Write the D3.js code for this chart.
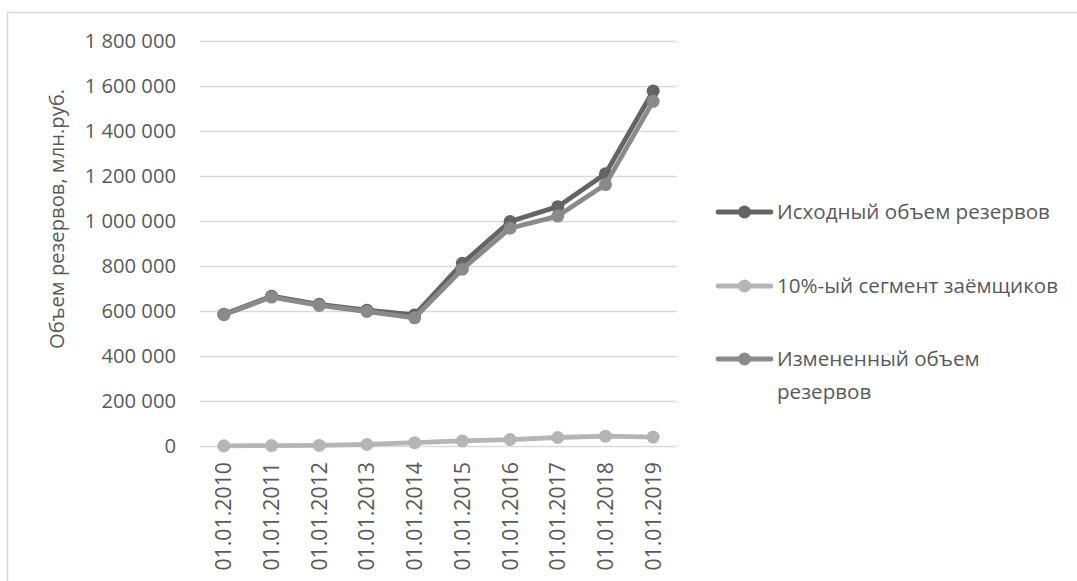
<!DOCTYPE html>
<html><head><meta charset="utf-8">
<script src="https://cdn.jsdelivr.net/npm/d3@7"></script>
<style>
html,body{margin:0;padding:0;background:#fff;}
svg{display:block;}
text{font-family:"Open Sans",sans-serif;fill:#595959;}
</style></head>
<body>
<svg id="c" width="1077" height="581"></svg>
<script>
const categories = ["01.01.2010","01.01.2011","01.01.2012","01.01.2013","01.01.2014","01.01.2015","01.01.2016","01.01.2017","01.01.2018","01.01.2019"];
const seriesNames = ["Исходный объем резервов","10%-ый сегмент заёмщиков","Измененный объем резервов"];
const original = [588000, 668000, 632000, 606000, 585000, 814000, 1000000, 1066000, 1212000, 1580000];
const segment10 = [3000, 4000, 5000, 9000, 17000, 25000, 31000, 40000, 46000, 42000];
const modified = [586000, 664000, 627000, 600000, 572000, 788000, 970000, 1024000, 1164000, 1534000];
const yTicks = [0,200000,400000,600000,800000,1000000,1200000,1400000,1600000,1800000];
const yTitle = "Объем резервов, млн.руб.";

const colors = ["#646464","#b5b5b5","#8a8a8a"];
const data = [original, segment10, modified];

const svg = d3.select("#c");
svg.append("rect").attr("x",7.5).attr("y",12.5).attr("width",1100).attr("height",600)
  .attr("fill","#fff").attr("stroke","#d9d9d9").attr("stroke-width",1.5);

const x = d3.scaleBand().domain(categories).range([200,677]);
const y = d3.scaleLinear().domain([0,1800000]).range([446.5,41.5]);
const fmt = v => d3.format(",")(v).replace(/,/g," ");

// gridlines
svg.append("g").selectAll("line").data(yTicks).join("line")
  .attr("x1",200).attr("x2",677).attr("y1",d=>y(d)).attr("y2",d=>y(d))
  .attr("stroke","#d9d9d9").attr("stroke-width",1.5);

// y axis labels
const yAxis = svg.append("g").attr("transform","translate(184,0)")
  .call(d3.axisLeft(y).tickValues(yTicks).tickFormat(fmt).tickSize(0).tickPadding(8));
yAxis.select(".domain").remove();
yAxis.selectAll("text").attr("font-size",20.2).attr("font-family","Open Sans").attr("fill","#595959");

// x axis labels
const xAxis = svg.append("g").attr("transform","translate(0,452)")
  .call(d3.axisBottom(x).tickSize(0).tickPadding(0));
xAxis.select(".domain").remove();
xAxis.selectAll("text").attr("font-size",21.3).attr("font-family","Open Sans").attr("fill","#595959")
  .attr("transform","rotate(-90)").attr("text-anchor","end").attr("dy","0.35em").attr("x",-10).attr("y",0);

// axis title
svg.append("text").attr("transform","translate(57,219) rotate(-90)")
  .attr("text-anchor","middle").attr("dy","0.35em").attr("font-size",20.2).text(yTitle);

const cx = d => x(d) + x.bandwidth()/2;
const line = d3.line().x((d,i)=>cx(categories[i])).y(d=>y(d));
data.forEach((s,k)=>{
  const g = svg.append("g");
  g.append("path").datum(s).attr("d",line).attr("fill","none")
    .attr("stroke",colors[k]).attr("stroke-width",4.8).attr("stroke-linejoin","round").attr("stroke-linecap","round");
  g.selectAll("circle").data(s).join("circle")
    .attr("cx",(d,i)=>cx(categories[i])).attr("cy",d=>y(d)).attr("r",6.5).attr("fill",colors[k]);
});

// legend
const legY = [212, 286, 359];
const legLines = [["Исходный объем резервов"],["10%-ый сегмент заёмщиков"],["Измененный объем","резервов"]];
legY.forEach((ly,k)=>{
  const g = svg.append("g");
  g.append("line").attr("x1",718).attr("x2",771).attr("y1",ly).attr("y2",ly)
    .attr("stroke",colors[k]).attr("stroke-width",4.8).attr("stroke-linecap","round");
  g.append("circle").attr("cx",744.5).attr("cy",ly).attr("r",6.5).attr("fill",colors[k]);
  const t = g.append("text").attr("x",777).attr("y",ly).attr("font-size",20.6);
  legLines[k].forEach((s,j)=>{
    t.append("tspan").attr("x",777).attr("dy", j===0 ? "0.35em" : "33").text(s);
  });
});
</script>
</body></html>
